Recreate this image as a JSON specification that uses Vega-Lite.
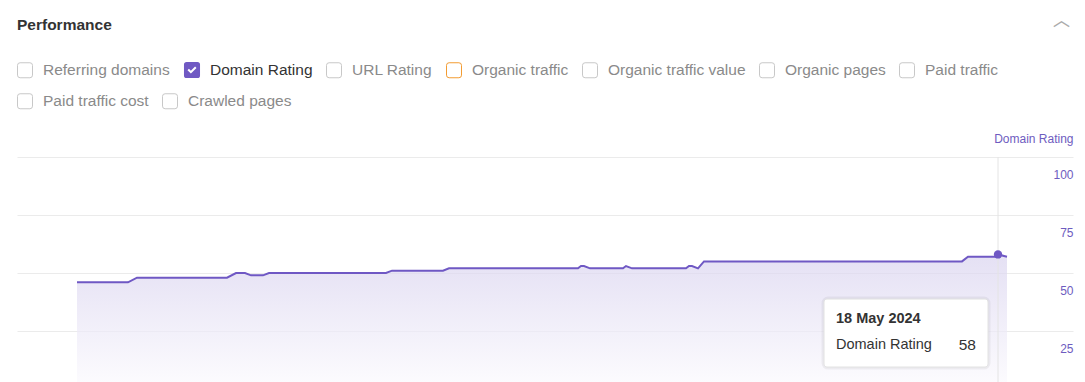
{
  "$schema": "https://vega.github.io/schema/vega-lite/v6.json",
  "width": 1056,
  "height": 232,
  "autosize": {"type": "none"},
  "padding": {"left": 17, "top": 157, "right": 12, "bottom": 0},
  "background": "white",
  "config": {"view": {"stroke": null}, "font": "Liberation Sans"},
  "title": {"text": "︿", "anchor": "end", "frame": "group", "orient": "top", "offset": -12, "dx": -3, "color": "#ababab", "font": "Noto Sans CJK SC", "fontSize": 17, "fontWeight": "normal"},
  "resolve": {"scale": {"fill": "independent", "stroke": "independent", "shape": "independent"}},
  "datasets": {
    "dr": [
      {"date": "2023-07-16", "value": 46},
      {"date": "2023-08-02", "value": 46},
      {"date": "2023-08-05", "value": 48},
      {"date": "2023-09-04", "value": 48},
      {"date": "2023-09-07", "value": 50},
      {"date": "2023-09-10", "value": 50},
      {"date": "2023-09-12", "value": 49},
      {"date": "2023-09-16", "value": 49},
      {"date": "2023-09-18", "value": 50},
      {"date": "2023-10-27", "value": 50},
      {"date": "2023-10-29", "value": 51},
      {"date": "2023-11-15", "value": 51},
      {"date": "2023-11-17", "value": 52},
      {"date": "2023-12-30", "value": 52},
      {"date": "2023-12-31", "value": 53},
      {"date": "2024-01-01", "value": 53},
      {"date": "2024-01-03", "value": 52},
      {"date": "2024-01-14", "value": 52},
      {"date": "2024-01-15", "value": 53},
      {"date": "2024-01-17", "value": 52},
      {"date": "2024-02-04", "value": 52},
      {"date": "2024-02-05", "value": 53},
      {"date": "2024-02-06", "value": 53},
      {"date": "2024-02-08", "value": 52},
      {"date": "2024-02-10", "value": 55},
      {"date": "2024-05-06", "value": 55},
      {"date": "2024-05-08", "value": 57},
      {"date": "2024-05-17", "value": 57},
      {"date": "2024-05-18", "value": 58},
      {"date": "2024-05-21", "value": 57}
    ],
    "hover": [{"date": "2024-05-18", "value": 58}],
    "metrics1": [
      {"metric": "Referring domains"},
      {"metric": "Domain Rating"},
      {"metric": "URL Rating"},
      {"metric": "Organic traffic"},
      {"metric": "Organic traffic value"},
      {"metric": "Organic pages"},
      {"metric": "Paid traffic"}
    ],
    "metrics2": [
      {"metric": "Paid traffic cost"},
      {"metric": "Crawled pages"}
    ]
  },
  "layer": [
    {
      "data": {"name": "metrics1"},
      "mark": {"type": "point", "filled": true, "opacity": 0},
      "encoding": {
        "fill": {
          "field": "metric", "type": "nominal", "title": "Performance",
          "scale": {
            "domain": ["Referring domains", "Domain Rating", "URL Rating", "Organic traffic", "Organic traffic value", "Organic pages", "Paid traffic"],
            "range": ["#ffffff", "#7059c3", "#ffffff", "#ffffff", "#ffffff", "#ffffff", "#ffffff"]
          },
          "legend": {
            "orient": "none", "legendX": 0, "legendY": -139, "direction": "horizontal",
            "columnPadding": 11,
            "titleFont": "Liberation Sans", "titleFontSize": 15.5, "titleFontWeight": "bold", "titleColor": "#333333", "titlePadding": 28, "titleAnchor": "start",
            "symbolSize": 225, "symbolStrokeWidth": 1, "symbolOpacity": 1,
            "labelFont": "Liberation Sans", "labelFontSize": 15.5, "labelOffset": 10, "labelLimit": 0,
            "labelColor": {"expr": "datum.value === 'Domain Rating' ? '#333333' : '#8a8a8a'"}
          }
        },
        "stroke": {
          "field": "metric", "type": "nominal", "title": "Performance",
          "scale": {
            "domain": ["Referring domains", "Domain Rating", "URL Rating", "Organic traffic", "Organic traffic value", "Organic pages", "Paid traffic"],
            "range": ["#c8c8c8", "transparent", "#c8c8c8", "#f39c32", "#c8c8c8", "#c8c8c8", "#c8c8c8"]
          },
          "legend": {
            "orient": "none", "legendX": 0, "legendY": -139, "direction": "horizontal",
            "columnPadding": 11,
            "titleFont": "Liberation Sans", "titleFontSize": 15.5, "titleFontWeight": "bold", "titleColor": "#333333", "titlePadding": 28, "titleAnchor": "start",
            "symbolSize": 225, "symbolStrokeWidth": 1, "symbolOpacity": 1,
            "labelFont": "Liberation Sans", "labelFontSize": 15.5, "labelOffset": 10, "labelLimit": 0,
            "labelColor": {"expr": "datum.value === 'Domain Rating' ? '#333333' : '#8a8a8a'"}
          }
        },
        "shape": {
          "field": "metric", "type": "nominal", "title": "Performance",
          "scale": {
            "domain": ["Referring domains", "Domain Rating", "URL Rating", "Organic traffic", "Organic traffic value", "Organic pages", "Paid traffic"],
            "range": [
              "M-0.65,-1L0.65,-1Q1,-1 1,-0.65L1,0.65Q1,1 0.65,1L-0.65,1Q-1,1 -1,0.65L-1,-0.65Q-1,-1 -0.65,-1Z",
              "M-0.72,-1.07L0.72,-1.07Q1.07,-1.07 1.07,-0.72L1.07,0.72Q1.07,1.07 0.72,1.07L-0.72,1.07Q-1.07,1.07 -1.07,0.72L-1.07,-0.72Q-1.07,-1.07 -0.72,-1.07ZM-0.6,0.03L-0.15,0.48L0.6,-0.27L0.41,-0.46L-0.15,0.1L-0.41,-0.16Z",
              "M-0.65,-1L0.65,-1Q1,-1 1,-0.65L1,0.65Q1,1 0.65,1L-0.65,1Q-1,1 -1,0.65L-1,-0.65Q-1,-1 -0.65,-1Z",
              "M-0.65,-1L0.65,-1Q1,-1 1,-0.65L1,0.65Q1,1 0.65,1L-0.65,1Q-1,1 -1,0.65L-1,-0.65Q-1,-1 -0.65,-1Z",
              "M-0.65,-1L0.65,-1Q1,-1 1,-0.65L1,0.65Q1,1 0.65,1L-0.65,1Q-1,1 -1,0.65L-1,-0.65Q-1,-1 -0.65,-1Z",
              "M-0.65,-1L0.65,-1Q1,-1 1,-0.65L1,0.65Q1,1 0.65,1L-0.65,1Q-1,1 -1,0.65L-1,-0.65Q-1,-1 -0.65,-1Z",
              "M-0.65,-1L0.65,-1Q1,-1 1,-0.65L1,0.65Q1,1 0.65,1L-0.65,1Q-1,1 -1,0.65L-1,-0.65Q-1,-1 -0.65,-1Z"
            ]
          },
          "legend": {
            "orient": "none", "legendX": 0, "legendY": -139, "direction": "horizontal",
            "columnPadding": 11,
            "titleFont": "Liberation Sans", "titleFontSize": 15.5, "titleFontWeight": "bold", "titleColor": "#333333", "titlePadding": 28, "titleAnchor": "start",
            "symbolSize": 225, "symbolStrokeWidth": 1, "symbolOpacity": 1,
            "labelFont": "Liberation Sans", "labelFontSize": 15.5, "labelOffset": 10, "labelLimit": 0,
            "labelColor": {"expr": "datum.value === 'Domain Rating' ? '#333333' : '#8a8a8a'"}
          }
        }
      }
    },
    {
      "data": {"name": "metrics2"},
      "mark": {"type": "point", "filled": true, "opacity": 0},
      "encoding": {
        "fill": {
          "field": "metric", "type": "nominal", "title": null,
          "scale": {"domain": ["Paid traffic cost", "Crawled pages"], "range": ["#ffffff", "#ffffff"]},
          "legend": {
            "orient": "none", "legendX": 0, "legendY": -64, "direction": "horizontal",
            "columnPadding": 11,
            "symbolSize": 225, "symbolStrokeWidth": 1, "symbolOpacity": 1,
            "labelFont": "Liberation Sans", "labelFontSize": 15.5, "labelOffset": 10, "labelLimit": 0, "labelColor": "#8a8a8a"
          }
        },
        "stroke": {
          "field": "metric", "type": "nominal", "title": null,
          "scale": {"domain": ["Paid traffic cost", "Crawled pages"], "range": ["#c8c8c8", "#c8c8c8"]},
          "legend": {
            "orient": "none", "legendX": 0, "legendY": -64, "direction": "horizontal",
            "columnPadding": 11,
            "symbolSize": 225, "symbolStrokeWidth": 1, "symbolOpacity": 1,
            "labelFont": "Liberation Sans", "labelFontSize": 15.5, "labelOffset": 10, "labelLimit": 0, "labelColor": "#8a8a8a"
          }
        },
        "shape": {
          "field": "metric", "type": "nominal", "title": null,
          "scale": {
            "domain": ["Paid traffic cost", "Crawled pages"],
            "range": [
              "M-0.65,-1L0.65,-1Q1,-1 1,-0.65L1,0.65Q1,1 0.65,1L-0.65,1Q-1,1 -1,0.65L-1,-0.65Q-1,-1 -0.65,-1Z",
              "M-0.65,-1L0.65,-1Q1,-1 1,-0.65L1,0.65Q1,1 0.65,1L-0.65,1Q-1,1 -1,0.65L-1,-0.65Q-1,-1 -0.65,-1Z"
            ]
          },
          "legend": {
            "orient": "none", "legendX": 0, "legendY": -64, "direction": "horizontal",
            "columnPadding": 11,
            "symbolSize": 225, "symbolStrokeWidth": 1, "symbolOpacity": 1,
            "labelFont": "Liberation Sans", "labelFontSize": 15.5, "labelOffset": 10, "labelLimit": 0, "labelColor": "#8a8a8a"
          }
        }
      }
    },
    {
      "data": {"name": "dr"},
      "mark": {
        "type": "area",
        "line": {"color": "#6f58c4", "strokeWidth": 2},
        "color": {
          "gradient": "linear",
          "x1": 0, "y1": 1, "x2": 0, "y2": 0,
          "stops": [
            {"offset": 0, "color": "#fcfbfe"},
            {"offset": 1, "color": "#d9d3ef"}
          ]
        }
      },
      "encoding": {
        "x": {
          "field": "date",
          "type": "temporal",
          "scale": {"domain": [{"year": 2023, "month": 6, "date": 26, "utc": true}, {"year": 2024, "month": 6, "date": 12, "utc": true}]},
          "axis": null
        },
        "y": {
          "field": "value",
          "type": "quantitative",
          "scale": {"domain": [0, 100]},
          "axis": {
            "orient": "right",
            "values": [25, 50, 75, 100],
            "grid": true,
            "gridColor": "#ebebeb",
            "domain": false,
            "ticks": false,
            "tickSize": 0,
            "labelAlign": "right",
            "labelPadding": 0,
            "labelOffset": 17,
            "labelBaseline": "middle",
            "labelColor": "#6e5cc0",
            "labelFont": "Liberation Sans",
            "labelFontSize": 12,
            "title": "Domain Rating",
            "titleAngle": 0,
            "titleAlign": "right",
            "titleBaseline": "middle",
            "titleX": 0,
            "titleY": -19,
            "titleColor": "#6e5cc0",
            "titleFont": "Liberation Sans",
            "titleFontSize": 12,
            "titleFontWeight": "normal"
          }
        }
      }
    },
    {
      "data": {"name": "hover"},
      "mark": {"type": "rule", "color": "#e4e4e4", "strokeWidth": 1},
      "encoding": {"x": {"field": "date", "type": "temporal"}}
    },
    {
      "data": {"name": "hover"},
      "mark": {"type": "circle", "size": 70, "color": "#6f58c4", "opacity": 1},
      "encoding": {
        "x": {"field": "date", "type": "temporal"},
        "y": {"field": "value", "type": "quantitative"}
      }
    },
    {
      "data": {"name": "hover"},
      "mark": {"type": "rect", "fill": "#ffffff", "stroke": "#000000", "strokeOpacity": 0.05, "strokeWidth": 5, "cornerRadius": 4, "xOffset": -174, "x2Offset": -10, "yOffset": 44.6, "y2Offset": 112.6},
      "encoding": {
        "x": {"field": "date", "type": "temporal"},
        "x2": {"field": "date"},
        "y": {"field": "value", "type": "quantitative"},
        "y2": {"field": "value"}
      }
    },
    {
      "data": {"name": "hover"},
      "mark": {"type": "rect", "fill": "#ffffff", "stroke": "#e2e2e2", "strokeWidth": 1, "cornerRadius": 3, "xOffset": -174, "x2Offset": -10, "yOffset": 44.6, "y2Offset": 112.6},
      "encoding": {
        "x": {"field": "date", "type": "temporal"},
        "x2": {"field": "date"},
        "y": {"field": "value", "type": "quantitative"},
        "y2": {"field": "value"}
      }
    },
    {
      "data": {"name": "hover"},
      "mark": {"type": "text", "align": "left", "baseline": "middle", "dx": -162, "dy": 64.6, "font": "Liberation Sans", "fontSize": 14.5, "fontWeight": "bold", "color": "#333333"},
      "encoding": {
        "x": {"field": "date", "type": "temporal"},
        "y": {"field": "value", "type": "quantitative"},
        "text": {"field": "date", "timeUnit": "utcyearmonthdate", "type": "temporal", "format": "%-d %b %Y"}
      }
    },
    {
      "data": {"name": "hover"},
      "mark": {"type": "text", "align": "left", "baseline": "middle", "dx": -162, "dy": 90.6, "font": "Liberation Sans", "fontSize": 14.5, "color": "#333333"},
      "encoding": {
        "x": {"field": "date", "type": "temporal"},
        "y": {"field": "value", "type": "quantitative"},
        "text": {"value": "Domain Rating"}
      }
    },
    {
      "data": {"name": "hover"},
      "mark": {"type": "text", "align": "right", "baseline": "middle", "dx": -22, "dy": 90.6, "font": "Liberation Sans", "fontSize": 15.5, "color": "#333333"},
      "encoding": {
        "x": {"field": "date", "type": "temporal"},
        "y": {"field": "value", "type": "quantitative"},
        "text": {"field": "value", "type": "quantitative"}
      }
    }
  ]
}
